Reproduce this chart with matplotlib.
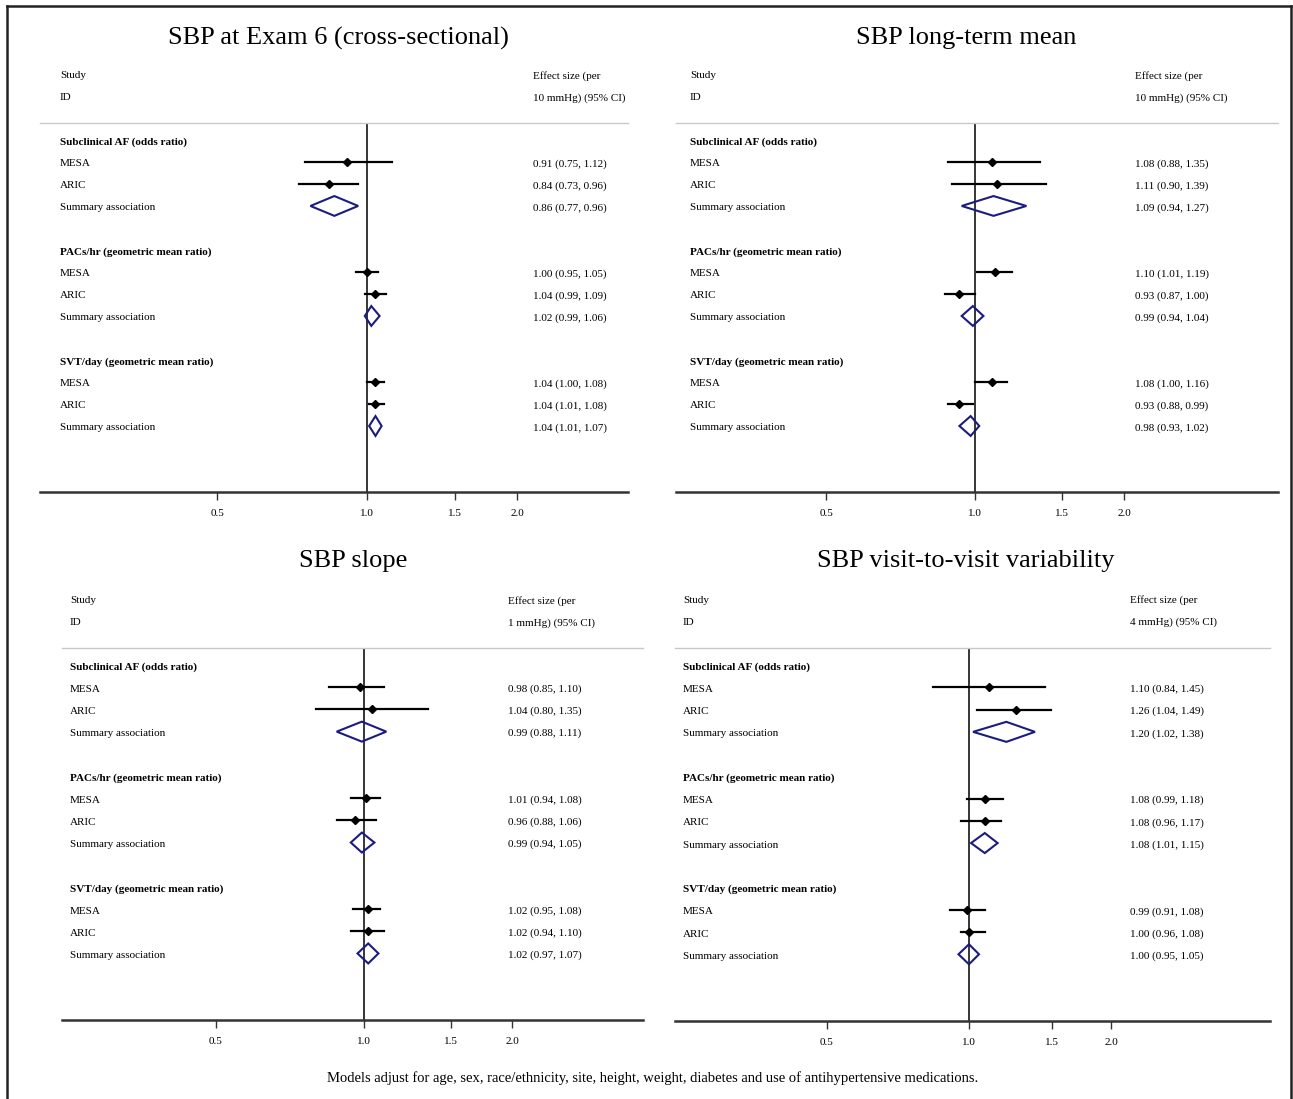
import numpy as np
import matplotlib
matplotlib.use("Agg")
import matplotlib.pyplot as plt
from matplotlib.lines import Line2D
from matplotlib.patches import Polygon

plt.rcParams['font.family'] = ['Liberation Serif', 'DejaVu Serif']

W, H = 1293, 1099

# ---- data ----
groups = ["Subclinical AF (odds ratio)", "PACs/hr (geometric mean ratio)",
          "SVT/day (geometric mean ratio)"]
studies = ["MESA", "ARIC", "Summary association"]

titles = ["SBP at Exam 6 (cross-sectional)", "SBP long-term mean",
          "SBP slope", "SBP visit-to-visit variability"]
units = ["10 mmHg) (95% CI)", "10 mmHg) (95% CI)", "1 mmHg) (95% CI)",
         "4 mmHg) (95% CI)"]

# estimate, lower, upper  (rows: AF MESA, AF ARIC, AF summ, PAC..., SVT...)
est_exam6 = [0.91, 0.84, 0.86, 1.00, 1.04, 1.02, 1.04, 1.04, 1.04]
lo_exam6 = [0.75, 0.73, 0.77, 0.95, 0.99, 0.99, 1.00, 1.01, 1.01]
hi_exam6 = [1.12, 0.96, 0.96, 1.05, 1.09, 1.06, 1.08, 1.08, 1.07]

est_mean = [1.08, 1.11, 1.09, 1.10, 0.93, 0.99, 1.08, 0.93, 0.98]
lo_mean = [0.88, 0.90, 0.94, 1.01, 0.87, 0.94, 1.00, 0.88, 0.93]
hi_mean = [1.35, 1.39, 1.27, 1.19, 1.00, 1.04, 1.16, 0.99, 1.02]

est_slope = [0.98, 1.04, 0.99, 1.01, 0.96, 0.99, 1.02, 1.02, 1.02]
lo_slope = [0.85, 0.80, 0.88, 0.94, 0.88, 0.94, 0.95, 0.94, 0.97]
hi_slope = [1.10, 1.35, 1.11, 1.08, 1.06, 1.05, 1.08, 1.10, 1.07]

est_var = [1.10, 1.26, 1.20, 1.08, 1.08, 1.08, 0.99, 1.00, 1.00]
lo_var = [0.84, 1.04, 1.02, 0.99, 0.96, 1.01, 0.91, 0.96, 0.95]
hi_var = [1.45, 1.49, 1.38, 1.18, 1.17, 1.15, 1.08, 1.08, 1.05]

tick_vals = [0.5, 1.0, 1.5, 2.0]
tick_labels = ["0.5", "1.0", "1.5", "2.0"]

panels = [
    (est_exam6, lo_exam6, hi_exam6),
    (est_mean, lo_mean, hi_mean),
    (est_slope, lo_slope, hi_slope),
    (est_var, lo_var, hi_var),
]

# ---- layout (pixels) ----
# left, right, top(gray line), bottom(axis), x of 1.0, px per doubling,
# label x, estimate x, title x, title y
layout = [
    (40, 628, 123, 492, 367, 150, 60, 533, 338, 38),
    (676, 1278, 123, 492, 975, 149, 690, 1135, 966, 38),
    (62, 643, 648, 1020, 364, 148, 70, 508, 353, 561),
    (675, 1270, 648, 1021, 969, 142, 683, 1130, 966, 561),
]

navy = "#1c1c80"
fs = 8
dy = 0.09  # small downward nudge of text rows

fig = plt.figure(figsize=(W / 100, H / 100), dpi=100)

# frame around the figure (left, top, right)
fig.add_artist(Line2D([7 / W, 7 / W], [0, 1 - 6 / H], color="#222222", lw=1.8))
fig.add_artist(Line2D([7 / W, 1291 / W], [1 - 6 / H, 1 - 6 / H], color="#222222", lw=1.8))
fig.add_artist(Line2D([1291 / W, 1291 / W], [0, 1 - 6 / H], color="#222222", lw=1.8))

row_pos = [1, 2, 3, 6, 7, 8, 11, 12, 13]
head_pos = [0, 5, 10]

for (est, lo, hi), title, unit, (L, R, T, B, x1, ppd, lx, ex, tx, ty) in zip(
        panels, titles, units, layout):
    ax = fig.add_axes([L / W, 1 - B / H, (R - L) / W, (B - T) / H])
    ax.set_xscale("log")
    ax.set_xlim(2 ** (-(x1 - L) / ppd), 2 ** ((R - x1) / ppd))
    ax.set_ylim(16, -0.77)

    for s in ["left", "right"]:
        ax.spines[s].set_visible(False)
    ax.spines["top"].set_color("#c8c8c8")
    ax.spines["top"].set_linewidth(1.0)
    ax.spines["bottom"].set_color("#333333")
    ax.spines["bottom"].set_linewidth(1.8)
    ax.set_yticks([])
    ax.set_xticks(tick_vals)
    ax.set_xticklabels(tick_labels, fontsize=fs)
    ax.minorticks_off()
    ax.tick_params(axis="x", direction="out", length=6, width=1, color="#333333", pad=6)

    ax.axvline(1.0, color="black", lw=1.1, zorder=1)

    tr = ax.get_yaxis_transform()

    def xa(px):
        return (px - L) / (R - L)

    for g, yp in zip(groups, head_pos):
        ax.text(xa(lx), yp + dy, g, fontsize=fs, fontweight="bold", va="center",
                transform=tr, clip_on=False)
    for i, yp in enumerate(row_pos):
        ax.text(xa(lx), yp + dy, studies[i % 3], fontsize=fs, va="center",
                transform=tr, clip_on=False)
        ax.text(xa(ex), yp + dy, f"{est[i]:.2f} ({lo[i]:.2f}, {hi[i]:.2f})",
                fontsize=fs, va="center", transform=tr, clip_on=False)
        if i % 3 == 2:
            d = 0.45
            ax.add_patch(Polygon([(lo[i], yp), (est[i], yp - d), (hi[i], yp),
                                  (est[i], yp + d)], closed=True, fill=False,
                                 edgecolor=navy, lw=1.5, zorder=3))
        else:
            ax.plot([lo[i], hi[i]], [yp, yp], color="black", lw=1.6, zorder=3)
            ax.plot(est[i], yp, marker="D", color="black", ms=4.5, zorder=4)

    ax.text(xa(lx), -3 + dy, "Study", fontsize=fs, va="center",
            transform=tr, clip_on=False)
    ax.text(xa(lx), -2 + dy, "ID", fontsize=fs, va="center",
            transform=tr, clip_on=False)
    ax.text(xa(ex), -3 + dy, "Effect size (per", fontsize=fs, va="center",
            transform=tr, clip_on=False)
    ax.text(xa(ex), -2 + dy, unit, fontsize=fs, va="center",
            transform=tr, clip_on=False)

    fig.text(tx / W, 1 - ty / H, title, fontsize=19, ha="center", va="center")

fig.text(653 / W, 1 - 1078 / H,
         "Models adjust for age, sex, race/ethnicity, site, height, weight, "
         "diabetes and use of antihypertensive medications.",
         fontsize=10.5, ha="center", va="center")

fig.savefig("out.png", dpi=100, facecolor="white")
